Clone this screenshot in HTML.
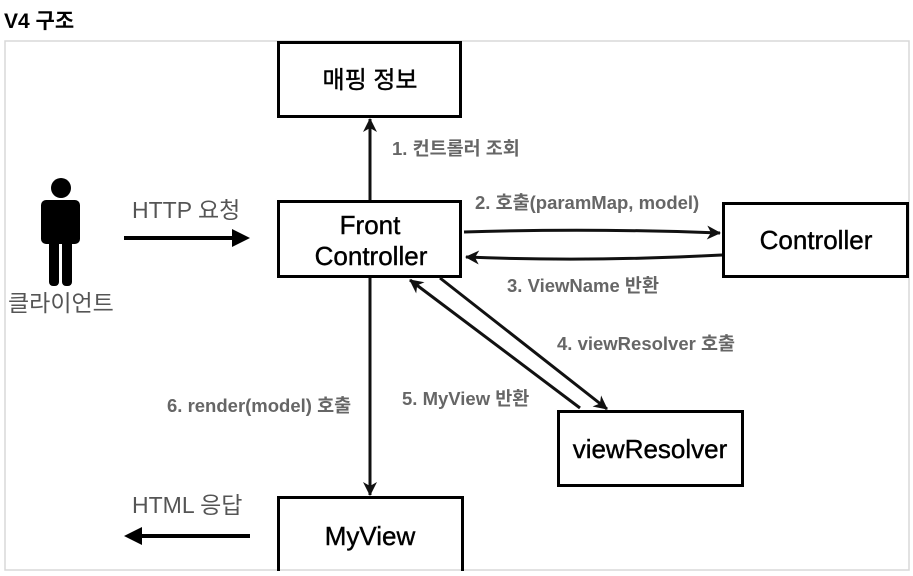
<!DOCTYPE html>
<html><head><meta charset="utf-8"><style>
body{margin:0;background:#fff;}
svg text{font-family:"Liberation Sans","Noto Sans CJK KR",sans-serif;}
</style></head><body>
<svg width="913" height="571" viewBox="0 0 913 571" xmlns="http://www.w3.org/2000/svg">
<defs>
<marker id="a" viewBox="0 0 14 14" refX="13" refY="7" markerWidth="14" markerHeight="14" markerUnits="userSpaceOnUse" orient="auto">
<path d="M0,0 L14,7 L0,14 L4,7 Z" fill="#111"/></marker>
</defs>
<text x="4" y="28" font-size="21" font-weight="bold" fill="#000">V4 구조</text>
<rect x="5" y="41" width="904" height="529" fill="none" stroke="#d8d8d8" stroke-width="1.5"/>
<g fill="none" stroke="#000" stroke-width="3">
<rect x="278.5" y="42.5" width="182" height="74"/>
<rect x="278.5" y="201.5" width="182" height="75"/>
<rect x="723.5" y="203.5" width="184" height="73"/>
<rect x="558.5" y="411.5" width="184" height="74"/>
<rect x="278.5" y="497.5" width="184" height="76"/>
</g>
<g font-size="26" fill="#000" text-anchor="middle" stroke="#000" stroke-width="0.4">
<text x="370" y="88" font-size="24">매핑 정보</text>
<text x="370" y="234">Front</text>
<text x="371" y="265">Controller</text>
<text x="816" y="249">Controller</text>
<text x="650" y="458">viewResolver</text>
<text x="370" y="545">MyView</text>
</g>
<!-- person -->
<g fill="#000">
<circle cx="61" cy="188" r="10"/>
<rect x="41" y="200" width="39" height="44" rx="5"/>
<rect x="49" y="230" width="10" height="56" rx="4"/>
<rect x="62" y="230" width="10" height="56" rx="4"/>
</g>
<text x="8" y="311" font-size="23" fill="#555">클라이언트</text>
<text x="132" y="218" font-size="23" fill="#555">HTTP 요청</text>
<line x1="124" y1="238" x2="236" y2="238" stroke="#000" stroke-width="4"/>
<path d="M232,229 L250,238 L232,247 Z" fill="#000"/>
<text x="132" y="513" font-size="23" fill="#555">HTML 응답</text>
<line x1="250" y1="536" x2="138" y2="536" stroke="#000" stroke-width="4"/>
<path d="M142,527 L124,536 L142,545 Z" fill="#000"/>
<g stroke="#111" stroke-width="3" fill="none" marker-end="url(#a)">
<line x1="370" y1="200" x2="370" y2="119"/>
<line x1="370" y1="278" x2="370" y2="495"/>
<path d="M464,232 Q590,228 720,233"/>
<path d="M722,255 Q590,262 466,257"/>
<line x1="440" y1="278" x2="607" y2="409"/>
<line x1="580" y1="408" x2="410" y2="280"/>
</g>
<g font-size="18.5" font-weight="bold" fill="#666">
<text x="392" y="155">1. 컨트롤러 조회</text>
<text x="475" y="209">2. 호출(paramMap, model)</text>
<text x="507" y="292">3. ViewName 반환</text>
<text x="557" y="350">4. viewResolver 호출</text>
<text x="402" y="405">5. MyView 반환</text>
<text x="167" y="412">6. render(model) 호출</text>
</g>
</svg>
</body></html>
